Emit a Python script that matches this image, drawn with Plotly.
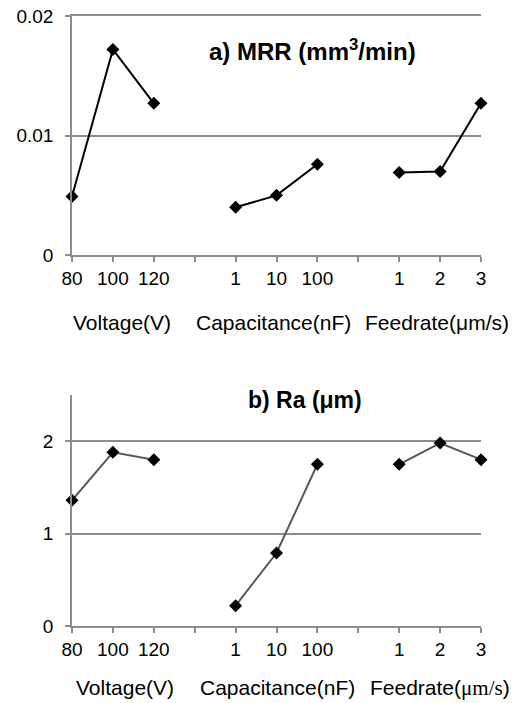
import plotly.graph_objects as go
from plotly.subplots import make_subplots

# ---- data ----
voltage_levels = ["80", "100", "120"]
capacitance_levels = ["1", "10", "100"]
feedrate_levels = ["1", "2", "3"]

mrr_voltage = [0.0049, 0.0172, 0.0127]
mrr_capacitance = [0.0040, 0.0050, 0.0076]
mrr_feedrate = [0.0069, 0.0070, 0.0127]

ra_voltage = [1.36, 1.88, 1.80]
ra_capacitance = [0.22, 0.79, 1.75]
ra_feedrate = [1.75, 1.98, 1.80]

mrr_ticks = [0, 0.01, 0.02]
mrr_ticklabels = ["0", "0.01", "0.02"]
ra_ticks = [0, 1, 2]
ra_ticklabels = ["0", "1", "2"]

group_names_top = ["Voltage(V)", "Capacitance(nF)", "Feedrate(μm/s)"]
group_names_bottom = ["Voltage(V)", "Capacitance(nF)",
                      'Feedrate(<span style="font-family:Liberation Serif">μm/s</span>)']

# category positions: 3 groups of 3 with one empty slot between groups
groups = [voltage_levels, capacitance_levels, feedrate_levels]
positions = []
ticktext = []
p = 0
for gi, g in enumerate(groups):
    pos = []
    for lab in g:
        pos.append(p)
        ticktext.append(lab)
        p += 1
    positions.append(pos)
    if gi < len(groups) - 1:
        ticktext.append(" ")
        p += 1
tickvals = list(range(len(ticktext)))

FONT = "Liberation Sans, Arial, sans-serif"
GRID = "#8c8c8c"
TICK_SIZE = 19

fig = make_subplots(rows=2, cols=1, vertical_spacing=0.0)

top_series = [mrr_voltage, mrr_capacitance, mrr_feedrate]
bot_series = [ra_voltage, ra_capacitance, ra_feedrate]

for pos, vals in zip(positions, top_series):
    fig.add_trace(go.Scatter(x=pos, y=vals, mode="lines+markers",
                             line=dict(color="black", width=2),
                             marker=dict(symbol="diamond", size=10, color="black"),
                             cliponaxis=False, showlegend=False), row=1, col=1)
for pos, vals in zip(positions, bot_series):
    fig.add_trace(go.Scatter(x=pos, y=vals, mode="lines+markers",
                             line=dict(color="#595959", width=2),
                             marker=dict(symbol="diamond", size=10, color="black"),
                             cliponaxis=False, showlegend=False), row=2, col=1)

xcommon = dict(range=[0, 10], tickmode="array", tickvals=tickvals, ticktext=ticktext,
               ticks="outside", ticklen=5, tickcolor=GRID, tickwidth=1.5,
               showline=True, linecolor=GRID, linewidth=1.5, showgrid=False,
               zeroline=False, automargin=False, domain=[0, 1],
               tickfont=dict(family=FONT, size=TICK_SIZE, color="black"))
ycommon = dict(ticks="outside", ticklen=5, tickcolor=GRID, tickwidth=1.5,
               showline=True, linecolor=GRID, linewidth=1.5,
               showgrid=True, gridcolor=GRID, gridwidth=1.5, zeroline=False,
               ticklabelstandoff=8, automargin=False, tickmode="array",
               tickfont=dict(family=FONT, size=TICK_SIZE, color="black"))

fig.update_layout(
    xaxis=dict(anchor="y", mirror=True, **xcommon),
    xaxis2=dict(anchor="y2", **xcommon),
    yaxis=dict(domain=[0.608, 1.0], range=[0, 0.02],
               tickvals=mrr_ticks, ticktext=mrr_ticklabels, **ycommon),
    yaxis2=dict(domain=[0.0, 0.3787], range=[0, 2.5],
                tickvals=ra_ticks, ticktext=ra_ticklabels, **ycommon),
    width=522, height=703,
    margin=dict(l=72, r=41, t=16, b=77),
    paper_bgcolor="white", plot_bgcolor="white",
    font=dict(family=FONT, color="black"),
)

annotations = []
group_centers = [pos[1] for pos in positions]
top_shifts = [9, -3, -3]
bottom_shifts = [12, 1, 0]
for c, name, s in zip(group_centers, group_names_top, top_shifts):
    annotations.append(dict(x=c, xref="x", y=0.498, yref="paper", text=name,
                            showarrow=False, xanchor="center", yanchor="middle",
                            xshift=s,
                            font=dict(family=FONT, size=21, color="black")))
for c, name, s in zip(group_centers, group_names_bottom, bottom_shifts):
    annotations.append(dict(x=c, xref="x2", y=-0.1016, yref="paper", text=name,
                            showarrow=False, xanchor="center", yanchor="middle",
                            xshift=s,
                            font=dict(family=FONT, size=21, color="black")))
annotations.append(dict(x=0.588, xref="paper", y=0.944, yref="paper",
                        text="<b>a) MRR (mm<sup>3</sup>/min)</b>", showarrow=False,
                        xanchor="center", yanchor="middle",
                        font=dict(family=FONT, size=24, color="black")))
annotations.append(dict(x=0.570, xref="paper", y=0.3705, yref="paper",
                        text="<b>b) Ra (μm)</b>", showarrow=False,
                        xanchor="center", yanchor="middle",
                        font=dict(family=FONT, size=23, color="black")))
fig.update_layout(annotations=annotations)

fig.write_html("out.html", config={"displayModeBar": False},
               post_script="document.body.style.margin='0';document.body.style.overflow='hidden';")
